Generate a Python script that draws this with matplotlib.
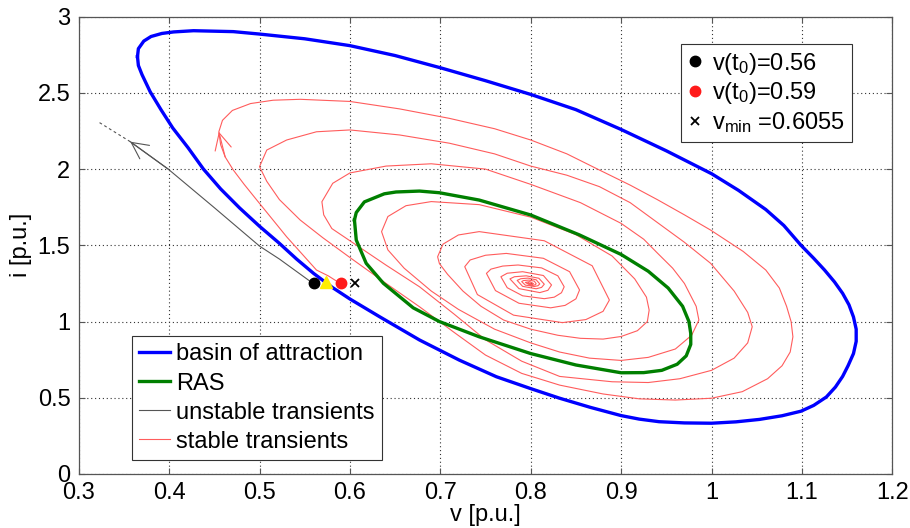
import numpy as np
import matplotlib
matplotlib.use('Agg')
import matplotlib.pyplot as plt
from matplotlib.ticker import FuncFormatter, MultipleLocator
from matplotlib.lines import Line2D

# basin of attraction boundary
blue_v = [0.365, 0.366, 0.372, 0.380, 0.392, 0.405, 0.427, 0.471, 0.500, 0.550, 0.600, 0.650, 0.700,
          0.750, 0.800, 0.850, 0.900, 0.950, 1.000, 1.030, 1.060, 1.080, 1.099, 1.113, 1.125, 1.136,
          1.145, 1.152, 1.157, 1.160, 1.160, 1.157, 1.151, 1.145, 1.137, 1.127, 1.113, 1.099, 1.078,
          1.053, 1.027, 1.000, 0.970, 0.942, 0.920, 0.900, 0.866, 0.832, 0.800, 0.762, 0.721, 0.677,
          0.633, 0.600, 0.581, 0.560, 0.541, 0.522, 0.500, 0.478, 0.457, 0.438, 0.421, 0.404, 0.391,
          0.379, 0.370, 0.366, 0.365]
blue_i = [2.738, 2.790, 2.840, 2.870, 2.890, 2.900, 2.908, 2.902, 2.886, 2.855, 2.810, 2.745, 2.665,
          2.580, 2.490, 2.390, 2.260, 2.120, 1.970, 1.860, 1.735, 1.630, 1.500, 1.415, 1.338, 1.260,
          1.185, 1.110, 1.030, 0.950, 0.870, 0.790, 0.710, 0.640, 0.570, 0.505, 0.450, 0.412, 0.382,
          0.358, 0.342, 0.333, 0.335, 0.343, 0.360, 0.383, 0.437, 0.497, 0.560, 0.638, 0.747, 0.879,
          1.031, 1.148, 1.222, 1.315, 1.410, 1.513, 1.625, 1.745, 1.870, 2.000, 2.140, 2.270, 2.390,
          2.508, 2.620, 2.680, 2.738]

# RAS estimate
green_v = [0.605, 0.607, 0.616, 0.638, 0.651, 0.677, 0.699, 0.743, 0.800, 0.854, 0.900, 0.930, 0.952,
           0.968, 0.975, 0.977, 0.977, 0.972, 0.962, 0.945, 0.925, 0.900, 0.850, 0.800, 0.743, 0.699,
           0.670, 0.637, 0.618, 0.607, 0.605]
green_i = [1.666, 1.715, 1.785, 1.838, 1.850, 1.856, 1.845, 1.797, 1.699, 1.568, 1.440, 1.330, 1.220,
           1.100, 1.000, 0.922, 0.850, 0.775, 0.720, 0.680, 0.665, 0.664, 0.715, 0.790, 0.900, 1.000,
           1.090, 1.251, 1.382, 1.535, 1.666]

# unstable transient from v(t0)=0.56
unstable_v = [0.559, 0.522, 0.500, 0.450, 0.399, 0.357]
unstable_i = [1.251, 1.410, 1.495, 1.747, 2.000, 2.180]
unstable_tail_v = [0.357, 0.3225]
unstable_tail_i = [2.180, 2.307]

# stable transient from v(t0)=0.59, spiralling into (0.8, 1.25)
stable_pts = [
    (0.589, 1.251), (0.576, 1.300), (0.563, 1.338), (0.546, 1.450), (0.530, 1.556), (0.513, 1.680),
    (0.497, 1.797), (0.483, 1.900), (0.471, 1.994), (0.462, 2.080), (0.457, 2.160), (0.455, 2.245),
    (0.459, 2.320), (0.470, 2.385), (0.490, 2.430), (0.515, 2.452), (0.545, 2.458), (0.600, 2.444),
    (0.655, 2.395), (0.710, 2.333), (0.760, 2.265), (0.800, 2.191), (0.840, 2.100), (0.876, 1.994),
    (0.910, 1.895), (0.940, 1.800), (0.970, 1.700), (0.999, 1.600), (1.035, 1.460), (1.060, 1.338),
    (1.075, 1.220), (1.083, 1.100), (1.088, 1.000), (1.090, 0.900), (1.087, 0.800), (1.078, 0.710),
    (1.062, 0.625), (1.034, 0.540), (1.000, 0.497), (0.960, 0.485), (0.920, 0.493), (0.880, 0.525),
    (0.832, 0.583),
    (0.790, 0.660), (0.750, 0.780), (0.715, 0.930), (0.677, 1.097), (0.640, 1.250), (0.600, 1.420),
    (0.570, 1.550), (0.545, 1.666), (0.522, 1.800), (0.508, 1.920), (0.500, 2.016), (0.508, 2.125),
    (0.530, 2.191), (0.563, 2.245), (0.600, 2.257), (0.655, 2.224), (0.710, 2.170), (0.760, 2.100),
    (0.800, 2.020), (0.840, 1.960), (0.876, 1.885), (0.910, 1.780), (0.940, 1.650), (0.970, 1.520),
    (0.999, 1.382), (1.025, 1.200), (1.040, 1.060), (1.045, 0.966), (1.040, 0.860), (1.025, 0.760),
    (1.000, 0.680), (0.965, 0.625), (0.930, 0.600), (0.890, 0.605), (0.832, 0.640),
    (0.790, 0.740), (0.750, 0.880), (0.715, 1.050), (0.677, 1.228), (0.640, 1.370), (0.600, 1.530),
    (0.580, 1.610), (0.571, 1.700), (0.569, 1.786), (0.581, 1.907), (0.600, 1.975), (0.640, 2.020),
    (0.690, 2.035), (0.750, 2.000), (0.800, 1.900), (0.855, 1.780), (0.900, 1.644), (0.925, 1.540),
    (0.940, 1.450), (0.957, 1.350), (0.970, 1.250), (0.983, 1.100), (0.986, 1.010), (0.978, 0.910),
    (0.960, 0.820), (0.930, 0.765), (0.900, 0.745), (0.865, 0.760), (0.832, 0.800),
    (0.800, 0.860), (0.760, 0.950), (0.720, 1.080), (0.690, 1.200), (0.660, 1.350), (0.642, 1.470),
    (0.635, 1.590), (0.642, 1.689), (0.662, 1.760), (0.690, 1.787), (0.743, 1.767), (0.800, 1.685),
    (0.850, 1.570), (0.890, 1.430), (0.915, 1.280), (0.928, 1.160), (0.931, 1.075), (0.929, 1.000),
    (0.918, 0.940), (0.900, 0.902), (0.880, 0.885), (0.855, 0.890), (0.830, 0.910),
    (0.800, 0.950), (0.770, 1.010), (0.745, 1.100), (0.725, 1.200), (0.708, 1.310), (0.699, 1.380),
    (0.697, 1.425), (0.703, 1.508), (0.720, 1.568), (0.743, 1.590), (0.815, 1.530), (0.868, 1.366),
    (0.887, 1.141), (0.880, 1.067), (0.861, 1.013), (0.835, 0.993), (0.781, 1.042), (0.741, 1.177),
    (0.727, 1.360), (0.733, 1.404), (0.750, 1.435), (0.773, 1.447), (0.814, 1.415), (0.843, 1.327),
    (0.854, 1.207), (0.850, 1.149), (0.838, 1.106), (0.822, 1.090), (0.787, 1.120), (0.761, 1.203),
    (0.751, 1.316), (0.756, 1.344), (0.769, 1.364), (0.786, 1.371), (0.812, 1.352), (0.830, 1.300),
    (0.837, 1.228), (0.834, 1.189), (0.826, 1.160), (0.815, 1.150), (0.791, 1.169), (0.774, 1.222),
    (0.767, 1.294), (0.774, 1.317), (0.791, 1.327), (0.814, 1.302), (0.823, 1.240), (0.819, 1.205),
    (0.810, 1.190), (0.787, 1.216), (0.777, 1.280), (0.782, 1.294), (0.795, 1.300), (0.809, 1.284),
    (0.815, 1.245), (0.812, 1.224), (0.806, 1.215), (0.791, 1.231), (0.785, 1.270), (0.789, 1.281),
    (0.797, 1.285), (0.806, 1.274), (0.810, 1.247), (0.808, 1.235), (0.804, 1.230), (0.794, 1.239),
    (0.790, 1.262), (0.792, 1.269), (0.798, 1.272), (0.804, 1.265), (0.806, 1.248), (0.805, 1.241),
    (0.802, 1.238), (0.798, 1.243), (0.794, 1.257), (0.799, 1.262), (0.803, 1.249), (0.801, 1.243),
    (0.797, 1.253), (0.800, 1.250),
]
stable = np.array(stable_pts)

# initial points and v_min
v0_unstable, v0_stable, v_min, v_tri = 0.56, 0.59, 0.6055, 0.5735
i0 = 1.251
i_tri = 1.262

plt.rcParams['font.family'] = ['Liberation Sans', 'DejaVu Sans']
plt.rcParams['font.size'] = 17
plt.rcParams['mathtext.default'] = 'regular'

fig = plt.figure(figsize=(9.1, 5.28), dpi=100)
ax = fig.add_axes([0.0865, 0.1023, 0.8941, 0.8661])

red = '#ff5c5c'
gray = '#555555'

h_blue, = ax.plot(blue_v, blue_i, color='#0000ff', lw=2.4, zorder=4, solid_joinstyle='round')
h_green, = ax.plot(green_v, green_i, color='#007f00', lw=2.4, zorder=4, solid_joinstyle='round')
h_gray, = ax.plot(unstable_v, unstable_i, color=gray, lw=0.8, zorder=3)
ax.plot(unstable_tail_v, unstable_tail_i, color=gray, lw=0.8, ls=(0, (2.5, 2.5)), zorder=3)
h_red, = ax.plot(stable[:, 0], stable[:, 1], color=red, lw=0.8, zorder=3, solid_joinstyle='round')

# direction arrows
ax.annotate('', xy=(unstable_v[-1], unstable_i[-1]), xytext=(unstable_v[-2], unstable_i[-2]),
            arrowprops=dict(arrowstyle='->,head_length=0.7,head_width=0.35', color=gray, lw=0.8,
                            shrinkA=0, shrinkB=0))
ax.annotate('', xy=tuple(stable[11]), xytext=tuple(stable[9]),
            arrowprops=dict(arrowstyle='->,head_length=0.7,head_width=0.35', color=red, lw=0.8,
                            shrinkA=0, shrinkB=0))

ax.plot([v0_unstable], [i0], 'o', color='k', ms=7.5, zorder=6)
ax.plot([v_tri], [i_tri], '^', color='#ffee00', ms=9, zorder=6)
ax.plot([v0_stable], [i0], 'o', color='#ff1a1a', ms=7.5, zorder=6)
ax.plot([v_min], [i0], 'x', color='k', ms=5.5, mew=1.3, zorder=6)

ax.set_xlim(0.3, 1.2)
ax.set_ylim(0, 3)
ax.xaxis.set_major_locator(MultipleLocator(0.1))
ax.yaxis.set_major_locator(MultipleLocator(0.5))
fmt = FuncFormatter(lambda x, pos: '%g' % round(x, 2))
ax.xaxis.set_major_formatter(fmt)
ax.yaxis.set_major_formatter(fmt)
ax.tick_params(direction='in', length=4, top=True, right=True, pad=6, color=gray)
ax.grid(True, ls=(0, (1, 2.5)), color='#333333', lw=0.8)
for s in ax.spines.values():
    s.set_color(gray)
    s.set_linewidth(0.9)

ax.set_xlabel('v [p.u.]', labelpad=0)
ax.set_ylabel('i [p.u.]', labelpad=4)

leg1 = ax.legend([h_blue, h_green, h_gray, h_red],
                 ['basin of attraction', 'RAS', 'unstable transients', 'stable transients'],
                 loc='lower left', bbox_to_anchor=(0.066, 0.031), borderaxespad=0,
                 fancybox=False, framealpha=1, edgecolor='#333333', handlelength=1.3,
                 handletextpad=0.25, labelspacing=0.3, borderpad=0.3)
leg1.get_frame().set_linewidth(0.8)
ax.add_artist(leg1)

mk = [Line2D([], [], ls='none', marker='o', color='k', ms=7.5),
      Line2D([], [], ls='none', marker='o', color='#ff1a1a', ms=7.5),
      Line2D([], [], ls='none', marker='x', color='k', ms=5.5, mew=1.3)]
leg2 = ax.legend(mk, ['v(t$_0$)=0.56', 'v(t$_0$)=0.59', 'v$_{min}$ =0.6055'],
                 loc='upper right', bbox_to_anchor=(0.950, 0.941), borderaxespad=0,
                 fancybox=False, framealpha=1, edgecolor='#333333', handlelength=0.6,
                 handletextpad=0.4, labelspacing=0.15, borderpad=0.3)
leg2.get_frame().set_linewidth(0.8)

fig.savefig('out.png', dpi=100)
